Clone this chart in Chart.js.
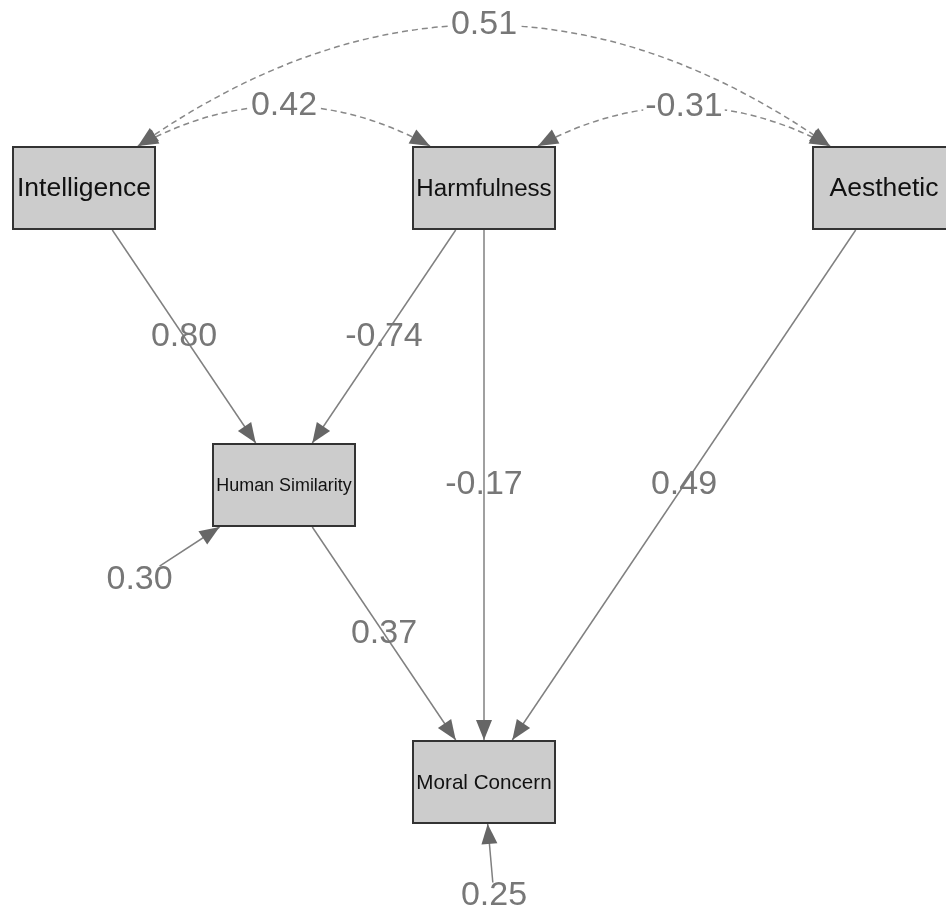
<!DOCTYPE html>
<html>
<head>
<meta charset="utf-8">
<script src="https://cdn.jsdelivr.net/npm/chart.js@4"></script>
<style>
  html, body { margin: 0; padding: 0; background: #fff; overflow: hidden; }
  #wrap { width: 946px; height: 916px; position: relative; }
</style>
</head>
<body>
<div id="wrap"><canvas id="sem"></canvas></div>
<script>
// Path diagram: observed variables laid out on a grid (column, row)
const nodeNames = ['Intelligence', 'Harmfulness', 'Aesthetic', 'Human Similarity', 'Moral Concern'];
const nodeCol = [0, 1, 2, 0.5, 1];
const nodeRow = [0, 0, 0, 1, 2];

// regression paths (standardized estimates)
const pathFrom = ['Intelligence', 'Harmfulness', 'Harmfulness', 'Aesthetic', 'Human Similarity'];
const pathTo = ['Human Similarity', 'Human Similarity', 'Moral Concern', 'Moral Concern', 'Moral Concern'];
const pathCoef = [0.80, -0.74, -0.17, 0.49, 0.37];

// covariances (dashed, two-headed); apex row of each arc
const covFrom = ['Intelligence', 'Harmfulness', 'Intelligence'];
const covTo = ['Harmfulness', 'Aesthetic', 'Aesthetic'];
const covCoef = [0.42, -0.31, 0.51];
const covApexRow = [-0.276, -0.273, -0.549];

// residual variances
const residNode = ['Human Similarity', 'Moral Concern'];
const residCoef = [0.30, 0.25];
const residCol = [0.139, 1.025];
const residRow = [1.317, 2.384];

const FONT = "'Liberation Sans', Arial, Helvetica, sans-serif";
const BOX_W = 144, BOX_H = 84;
const ARROW_LEN = 20, ARROW_HALF = 8;

function makeNodeImage(name) {
  const c = document.createElement('canvas');
  c.width = BOX_W; c.height = BOX_H;
  const g = c.getContext('2d');
  g.fillStyle = '#cccccc';
  g.fillRect(0, 0, BOX_W, BOX_H);
  g.strokeStyle = '#333333';
  g.lineWidth = 2;
  g.strokeRect(1, 1, BOX_W - 2, BOX_H - 2);
  let size = 26.5;
  g.font = `${size}px ${FONT}`;
  const w = g.measureText(name).width;
  if (w > 0.94 * BOX_W) size = size * 0.94 * BOX_W / w;
  g.font = `${size}px ${FONT}`;
  g.fillStyle = '#111111';
  g.textAlign = 'center';
  g.textBaseline = 'middle';
  g.fillText(name, BOX_W / 2, BOX_H / 2 + 1);
  return c;
}

const fmt = v => v.toFixed(2);

// point where the ray from the box centre along (dx,dy) leaves the box
function boxExit(c, dx, dy) {
  const hw = BOX_W / 2, hh = BOX_H / 2;
  const t = Math.min(dx ? hw / Math.abs(dx) : Infinity, dy ? hh / Math.abs(dy) : Infinity);
  return { x: c.x + dx * t, y: c.y + dy * t };
}

function arrowHead(ctx, tip, dx, dy) {
  const len = Math.hypot(dx, dy);
  const ux = dx / len, uy = dy / len;
  const bx = tip.x - ux * ARROW_LEN, by = tip.y - uy * ARROW_LEN;
  ctx.save();
  ctx.fillStyle = '#666666';
  ctx.beginPath();
  ctx.moveTo(tip.x, tip.y);
  ctx.lineTo(bx - uy * ARROW_HALF, by + ux * ARROW_HALF);
  ctx.lineTo(bx + uy * ARROW_HALF, by - ux * ARROW_HALF);
  ctx.closePath();
  ctx.fill();
  ctx.restore();
}

function edgeLabel(ctx, text, px, py, bg) {
  ctx.save();
  ctx.font = `34px ${FONT}`;
  ctx.textAlign = 'center';
  ctx.textBaseline = 'middle';
  if (bg) {
    const w = ctx.measureText(text).width;
    ctx.fillStyle = '#ffffff';
    ctx.fillRect(px - w / 2 - 2, py - 13, w + 4, 26);
  }
  ctx.fillStyle = '#777777';
  ctx.fillText(text, px, py);
  ctx.restore();
}

const semPaths = {
  id: 'semPaths',
  beforeDatasetsDraw(chart) {
    const { ctx, scales: { x, y } } = chart;
    const pos = name => {
      const i = nodeNames.indexOf(name);
      return { x: x.getPixelForValue(nodeCol[i]), y: y.getPixelForValue(nodeRow[i]) };
    };

    // regressions
    pathFrom.forEach((from, i) => {
      const a = pos(from), b = pos(pathTo[i]);
      const dx = b.x - a.x, dy = b.y - a.y;
      const s = boxExit(a, dx, dy);
      const e = boxExit(b, -dx, -dy);
      ctx.save();
      ctx.strokeStyle = '#808080';
      ctx.lineWidth = 1.5;
      ctx.beginPath();
      ctx.moveTo(s.x, s.y);
      ctx.lineTo(e.x, e.y);
      ctx.stroke();
      ctx.restore();
      arrowHead(ctx, e, dx, dy);
      edgeLabel(ctx, fmt(pathCoef[i]), (s.x + e.x) / 2, (s.y + e.y) / 2, false);
    });

    // covariances
    covFrom.forEach((from, i) => {
      const a = pos(from), b = pos(covTo[i]);
      const side = Math.sign(b.x - a.x);
      const ta = { x: a.x + side * (BOX_W / 2 - 18), y: a.y - BOX_H / 2 };
      const tb = { x: b.x - side * (BOX_W / 2 - 18), y: b.y - BOX_H / 2 };
      const apexY = y.getPixelForValue(covApexRow[i]);
      const cx = (ta.x + tb.x) / 2, cy = 2 * apexY - (ta.y + tb.y) / 2;
      ctx.save();
      ctx.strokeStyle = '#888888';
      ctx.lineWidth = 1.5;
      ctx.setLineDash([6, 4]);
      ctx.beginPath();
      ctx.moveTo(ta.x, ta.y);
      ctx.quadraticCurveTo(cx, cy, tb.x, tb.y);
      ctx.stroke();
      ctx.restore();
      arrowHead(ctx, ta, ta.x - cx, ta.y - cy);
      arrowHead(ctx, tb, tb.x - cx, tb.y - cy);
      edgeLabel(ctx, fmt(covCoef[i]), cx, apexY, true);
    });

    // residuals
    residNode.forEach((name, i) => {
      const c = pos(name);
      const l = { x: x.getPixelForValue(residCol[i]), y: y.getPixelForValue(residRow[i]) };
      const dx = c.x - l.x, dy = c.y - l.y;
      const tip = boxExit(c, -dx, -dy);
      const len = Math.hypot(dx, dy);
      const ux = dx / len, uy = dy / len;
      ctx.save();
      ctx.font = `34px ${FONT}`;
      const hw = ctx.measureText(fmt(residCoef[i])).width / 2, hh = 12.5;
      ctx.restore();
      const t = Math.min(ux ? hw / Math.abs(ux) : Infinity, uy ? hh / Math.abs(uy) : Infinity) + 1;
      ctx.save();
      ctx.strokeStyle = '#808080';
      ctx.lineWidth = 1.5;
      ctx.beginPath();
      ctx.moveTo(l.x + ux * t, l.y + uy * t);
      ctx.lineTo(tip.x, tip.y);
      ctx.stroke();
      ctx.restore();
      arrowHead(ctx, tip, dx, dy);
      edgeLabel(ctx, fmt(residCoef[i]), l.x, l.y, false);
    });
  }
};

const nodeImages = nodeNames.map(makeNodeImage);

new Chart(document.getElementById('sem'), {
  type: 'scatter',
  data: {
    datasets: [{
      label: 'nodes',
      data: nodeNames.map((n, i) => ({ x: nodeCol[i], y: nodeRow[i] })),
      pointStyle: nodeImages,
      pointRadius: 40,
      clip: false
    }]
  },
  options: {
    responsive: true,
    maintainAspectRatio: false,
    animation: false,
    events: [],
    layout: { padding: 0, autoPadding: false },
    plugins: { legend: { display: false }, tooltip: { enabled: false } },
    scales: {
      x: { type: 'linear', display: false, min: -84 / 400, max: (946 - 84) / 400 },
      y: { type: 'linear', display: false, reverse: true, min: -188 / 297, max: (916 - 188) / 297 }
    }
  },
  plugins: [semPaths]
});
</script>
</body>
</html>
